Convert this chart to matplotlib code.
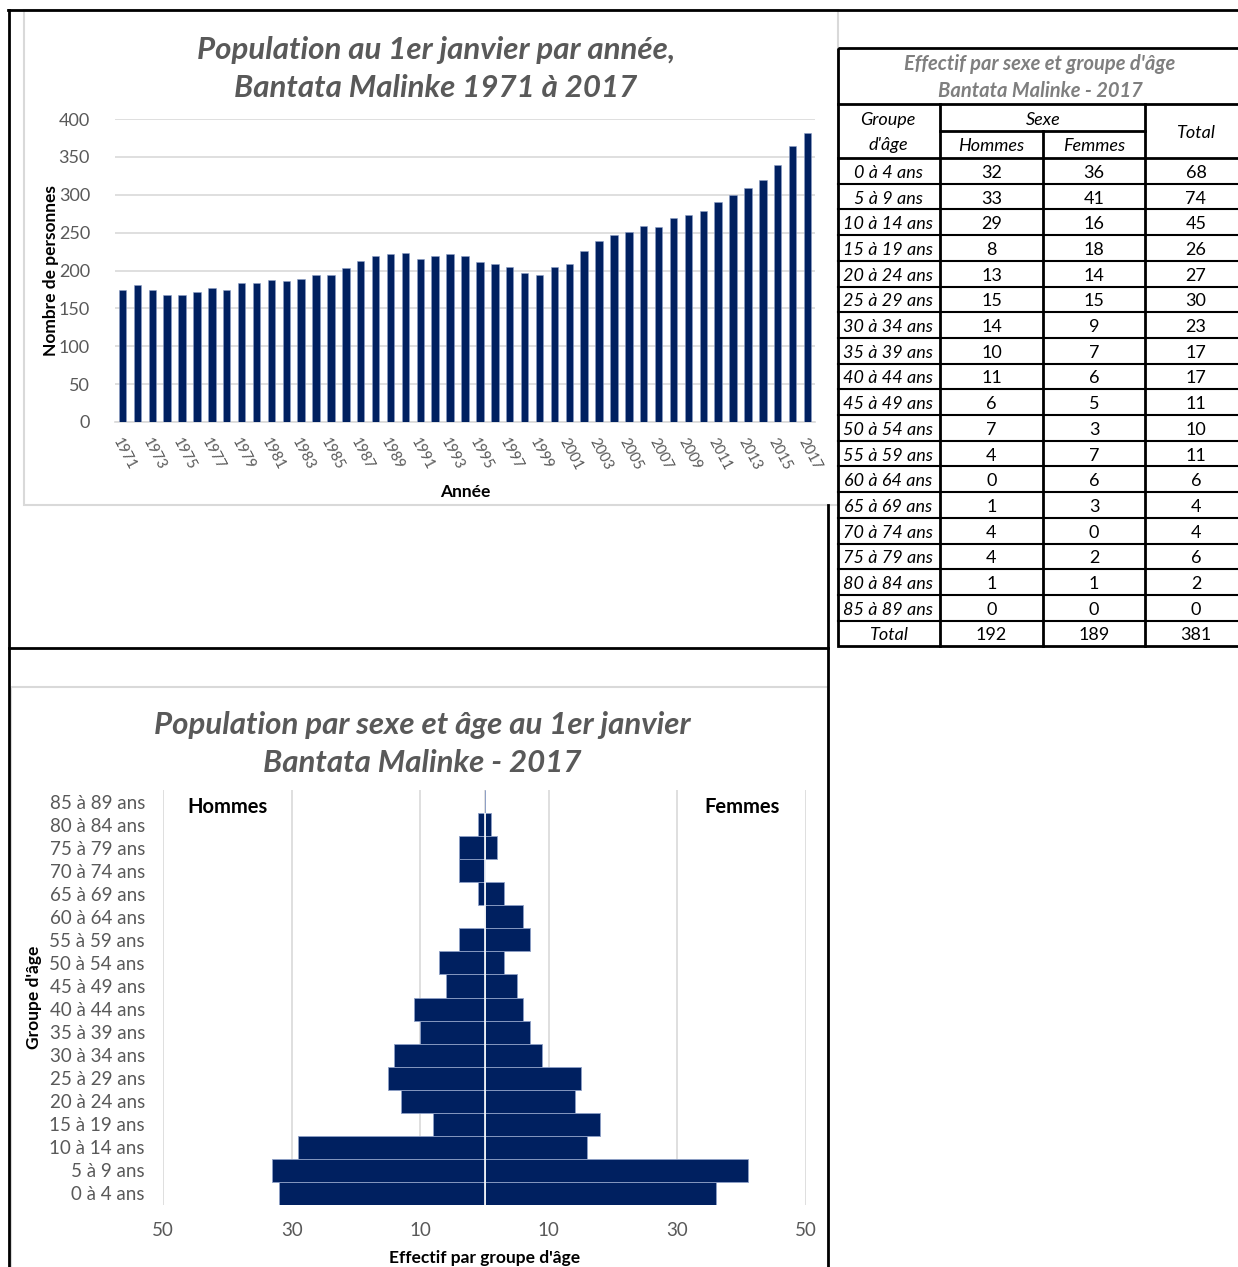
import numpy as np
import matplotlib
matplotlib.use("Agg")
import matplotlib.pyplot as plt
from matplotlib.patches import Rectangle

plt.rcParams['font.family'] = ['Lato', 'DejaVu Sans']

# Population au 1er janvier, 1971-2017
annees = list(range(1971, 2018))
population = [174, 181, 174, 167, 167, 171, 177, 174, 184, 184,
              187, 186, 189, 194, 194, 203, 213, 219, 222, 223,
              215, 219, 222, 219, 211, 209, 205, 197, 194, 204,
              209, 226, 239, 247, 251, 259, 258, 269, 273, 278,
              291, 300, 309, 320, 339, 364, 381]

# Effectif par sexe et groupe d'âge, 2017
groupes = ["0 à 4 ans", "5 à 9 ans", "10 à 14 ans", "15 à 19 ans", "20 à 24 ans",
           "25 à 29 ans", "30 à 34 ans", "35 à 39 ans", "40 à 44 ans", "45 à 49 ans",
           "50 à 54 ans", "55 à 59 ans", "60 à 64 ans", "65 à 69 ans", "70 à 74 ans",
           "75 à 79 ans", "80 à 84 ans", "85 à 89 ans"]
hommes = [32, 33, 29, 8, 13, 15, 14, 10, 11, 6, 7, 4, 0, 1, 4, 4, 1, 0]
femmes = [36, 41, 16, 18, 14, 15, 9, 7, 6, 5, 3, 7, 6, 3, 0, 2, 1, 0]

W, H = 1238, 1267
BLEU = '#002060'
GRIS = '#595959'
GRILLE = '#d9d9d9'

fig = plt.figure(figsize=(W / 100, H / 100), dpi=100)


def axes_px(x0, y0, x1, y1, **kw):
    return fig.add_axes([x0 / W, 1 - y1 / H, (x1 - x0) / W, (y1 - y0) / H], **kw)


# fond : bordures des cellules, cadres des graphiques, tableau
bg = axes_px(0, 0, W, H)
bg.set_xlim(0, W)
bg.set_ylim(H, 0)
bg.axis('off')

bg.add_patch(Rectangle((24, 10), 814, 495, fill=False, ec=GRILLE, lw=1.5))
bg.add_patch(Rectangle((11, 687), 817, 600, fill=False, ec=GRILLE, lw=1.5))
bg.plot([8, W], [10, 10], color='black', lw=2)
bg.plot([9, 9], [10, H], color='black', lw=2)
bg.plot([9, 828], [648, 648], color='black', lw=2)
bg.plot([828, 828], [505, H], color='black', lw=2)

# tableau
tx = [838, 940, 1043, 1145, 1247]
t_top, t_titre, t_sexe, t_entete = 48, 104, 131, 158
row_h = 25.7
n_rows = len(groupes) + 1
t_bas = t_entete + n_rows * row_h
bg.add_patch(Rectangle((tx[0], t_top), W - tx[0] + 5, t_bas - t_top, fill=False, ec='black', lw=2))
bg.plot([tx[0], W], [t_titre, t_titre], color='black', lw=2)
bg.plot([tx[1], tx[3]], [t_sexe, t_sexe], color='black', lw=2)
for x in tx[1:4]:
    bg.plot([x, x], [t_titre if x != tx[2] else t_sexe, t_bas], color='black', lw=2)
for i in range(n_rows):
    y = t_entete + i * row_h
    bg.plot([tx[0], W], [y, y], color='black', lw=1.5 if i else 2)

bg.text(1040, 64, "Effectif par sexe et groupe d'âge", ha='center', va='center',
        fontsize=14.5, color='#7f7f7f', style='italic', weight='bold')
bg.text(1040, 91, "Bantata Malinke - 2017", ha='center', va='center',
        fontsize=14.5, color='#7f7f7f', style='italic', weight='bold')
cx = [(tx[i] + tx[i + 1]) / 2 for i in range(4)]
FS_T = 13
bg.text(888, 120, "Groupe", ha='center', va='center', fontsize=FS_T, style='italic')
bg.text(888, 145, "d'âge", ha='center', va='center', fontsize=FS_T, style='italic')
bg.text(tx[2], 120, "Sexe", ha='center', va='center', fontsize=FS_T, style='italic')
bg.text(cx[1], 146, "Hommes", ha='center', va='center', fontsize=FS_T, style='italic')
bg.text(cx[2], 146, "Femmes", ha='center', va='center', fontsize=FS_T, style='italic')
bg.text(1195, 133, "Total", ha='center', va='center', fontsize=FS_T, style='italic')

lignes = list(zip(groupes, hommes, femmes)) + [("Total", sum(hommes), sum(femmes))]
for i, (g, h, f) in enumerate(lignes):
    y = t_entete + (i + 0.5) * row_h + 2
    bg.text(888, y, g, ha='center', va='center', fontsize=FS_T, style='italic')
    bg.text(cx[1], y, str(h), ha='center', va='center', fontsize=FS_T)
    bg.text(cx[2], y, str(f), ha='center', va='center', fontsize=FS_T)
    bg.text(1196, y, str(h + f), ha='center', va='center', fontsize=FS_T)

# graphique 1 : population par année
ax1 = axes_px(115, 119, 815, 422)
ax1.set_facecolor('none')
x = np.arange(len(annees))
ax1.bar(x, population, width=0.5, color=BLEU, edgecolor='#8d9fc6', linewidth=0.4, zorder=3)
ax1.set_xlim(-0.5, len(annees) - 0.5)
ax1.set_ylim(0, 400)
ax1.set_yticks(range(0, 401, 50))
ax1.yaxis.grid(True, color=GRILLE, lw=1.2, zorder=0)
for s in ['top', 'right', 'left']:
    ax1.spines[s].set_visible(False)
ax1.spines['bottom'].set_color(GRILLE)
ax1.spines['bottom'].set_linewidth(1.2)
ax1.set_xticks(x[::2])
ax1.set_xticklabels([str(a) for a in annees[::2]], rotation=-62, ha='left', va='top',
                    rotation_mode='anchor', fontsize=10.5, color=GRIS)
ax1.tick_params(axis='both', length=0)
ax1.tick_params(axis='y', labelsize=13, labelcolor=GRIS, pad=18)
ax1.tick_params(axis='x', pad=10)
ax1.set_ylabel("Nombre de personnes", fontsize=12.5, weight='bold', labelpad=0)
ax1.set_xlabel("Année", fontsize=12.5, weight='bold', labelpad=8)
bg.text(436, 50, "Population au 1er janvier par année,", ha='center', va='center',
        fontsize=22.5, color=GRIS, style='italic', weight='bold')
bg.text(436, 88, "Bantata Malinke 1971 à 2017", ha='center', va='center',
        fontsize=22.5, color=GRIS, style='italic', weight='bold')

# graphique 2 : pyramide des âges
ax2 = axes_px(163, 790, 806, 1205)
ax2.set_facecolor('none')
y = np.arange(len(groupes))
ax2.barh(y, [-v for v in hommes], height=1.0, color=BLEU, edgecolor='#8d9fc6', linewidth=0.6, zorder=3)
ax2.barh(y, femmes, height=1.0, color=BLEU, edgecolor='#8d9fc6', linewidth=0.6, zorder=3)
haut = max(i for i in y if hommes[i] > 0 or femmes[i] > 0)
ax2.vlines(0, -0.5, haut + 0.5, color='white', lw=1.2, zorder=4)
ax2.set_xlim(-50, 50)
ax2.set_ylim(-0.5, len(groupes) - 0.5)
ticks = [-50, -30, -10, 10, 30, 50]
ax2.set_xticks(ticks)
ax2.set_xticklabels([str(abs(t)) for t in ticks])
for t in ticks + [0]:
    ax2.axvline(t, color=GRILLE, lw=1.2, zorder=0)
ax2.set_yticks(y)
ax2.set_yticklabels(groupes)
for s in ax2.spines.values():
    s.set_visible(False)
ax2.tick_params(axis='both', length=0, labelsize=13.5, labelcolor=GRIS)
ax2.tick_params(axis='x', pad=12)
ax2.tick_params(axis='y', pad=13)
ax2.set_xlabel("Effectif par groupe d'âge", fontsize=12.5, weight='bold', labelpad=8)
ax2.set_ylabel("Groupe d'âge", fontsize=12.5, weight='bold', labelpad=5)
ax2.text(-40, 16.75, "Hommes", ha='center', va='center', fontsize=14.5, weight='bold')
ax2.text(40, 16.75, "Femmes", ha='center', va='center', fontsize=14.5, weight='bold')
bg.text(422, 725, "Population par sexe et âge au 1er janvier", ha='center', va='center',
        fontsize=22.5, color=GRIS, style='italic', weight='bold')
bg.text(422, 763, "Bantata Malinke - 2017", ha='center', va='center',
        fontsize=22.5, color=GRIS, style='italic', weight='bold')

fig.savefig("out.png", dpi=100)
